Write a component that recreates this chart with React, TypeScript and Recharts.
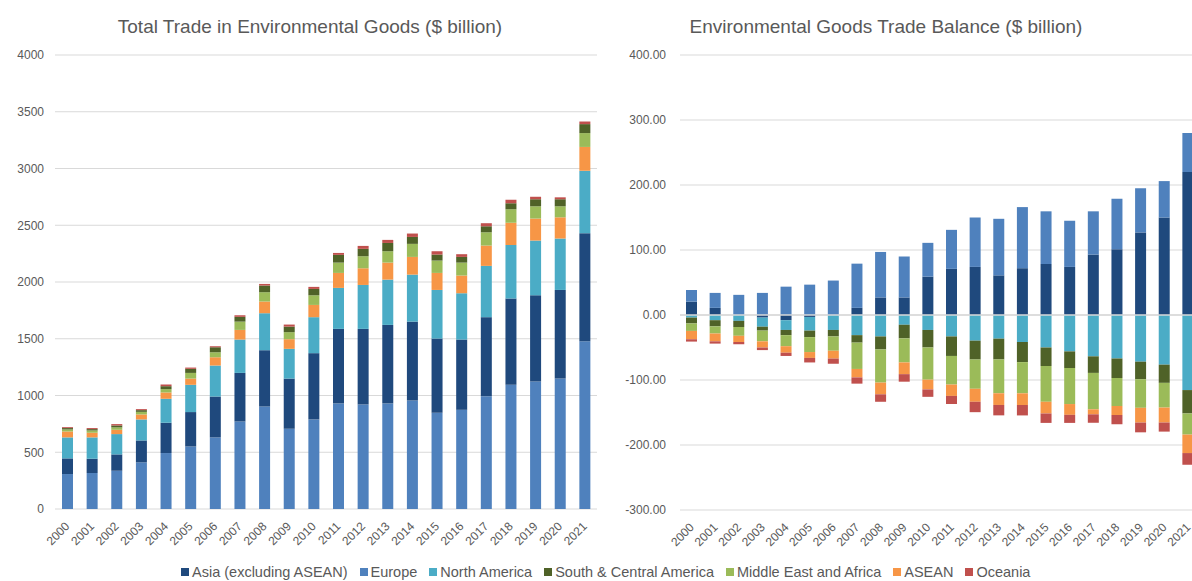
import React from "react";
import {
  BarChart,
  Bar,
  XAxis,
  YAxis,
  CartesianGrid,
  ReferenceLine,
} from "recharts";

const years = [
  "2000", "2001", "2002", "2003", "2004", "2005", "2006", "2007", "2008", "2009", "2010",
  "2011", "2012", "2013", "2014", "2015", "2016", "2017", "2018", "2019", "2020", "2021",
];

// total trade ($ billion)
const europeTotal = [308, 317, 337, 411, 493, 551, 631, 771, 903, 707, 789, 930, 921, 930, 956, 848, 874, 994, 1095, 1123, 1149, 1478];
const asiaTotal = [138, 126, 144, 193, 267, 303, 360, 428, 496, 442, 584, 657, 666, 692, 695, 654, 619, 696, 759, 760, 781, 952];
const northAmericaTotal = [185, 188, 179, 185, 211, 240, 273, 294, 326, 262, 317, 361, 387, 399, 414, 428, 408, 452, 473, 482, 453, 550];
const aseanTotal = [52, 41, 38, 44, 56, 55, 73, 85, 103, 85, 108, 132, 147, 150, 156, 150, 156, 179, 194, 194, 187, 210];
const meaTotal = [18, 20, 21, 23, 29, 50, 44, 73, 82, 62, 85, 91, 106, 100, 115, 109, 114, 117, 120, 108, 97, 122];
const scaTotal = [12, 12, 17, 15, 26, 36, 44, 42, 59, 49, 56, 68, 65, 73, 61, 53, 50, 53, 53, 62, 62, 79];
const oceaniaTotal = [8, 9, 12, 9, 15, 11, 9, 14, 14, 18, 18, 17, 26, 27, 30, 29, 24, 27, 31, 22, 17, 23];

// trade balance ($ billion)
const asiaBal = [20.5, 11, 0, -4, -8, -3, 0, 11, 27, 27, 59, 71, 74, 61, 72, 78.5, 74, 93, 101, 127, 150, 220];
const europeBal = [18, 23, 31, 34, 43.6, 46.7, 53, 68, 70, 63, 52, 60, 76, 87, 94, 81, 71, 66.5, 78, 68, 56, 60];
const northAmericaBal = [-4, -8, -9, -14, -15, -21, -23, -31, -33, -15, -23, -33, -39.5, -36.4, -41.5, -50, -56, -63.6, -67, -71.8, -76.4, -115.5];
const scaBal = [-9, -9.5, -9.5, -6, -8, -10, -10, -11.5, -20, -21, -27, -30, -29, -32, -31, -28.5, -25.5, -25.5, -30, -27, -28, -36];
const meaBal = [-11.5, -11, -13.5, -16.5, -17, -23, -22, -40.5, -51, -37, -49.5, -44, -45, -52, -48, -55, -55.5, -56, -43, -44, -38, -32.5];
const aseanBal = [-12.8, -12, -9.5, -9.5, -10, -9, -12, -13, -18, -18, -15, -17.5, -20, -18, -18, -18, -16.6, -7.7, -14, -22.7, -23, -28.4];
const oceaniaBal = [-3.6, -3.5, -3.5, -4, -5, -7, -8, -9.6, -11.5, -11.6, -11.4, -12.4, -16, -16, -16, -14.5, -12.4, -13, -14, -15, -14, -18];

const totalTicks = [0, 500, 1000, 1500, 2000, 2500, 3000, 3500, 4000];
const balanceTicks = [-300, -200, -100, 0, 100, 200, 300, 400];

const COLORS = {
  asia: "#1f497d",
  europe: "#4f81bd",
  northAmerica: "#4bacc6",
  sca: "#4f6228",
  mea: "#9bbb59",
  asean: "#f79646",
  oceania: "#c0504d",
};

const legendItems = [
  { name: "Asia (excluding ASEAN)", color: COLORS.asia },
  { name: "Europe", color: COLORS.europe },
  { name: "North America", color: COLORS.northAmerica },
  { name: "South & Central America", color: COLORS.sca },
  { name: "Middle East and Africa", color: COLORS.mea },
  { name: "ASEAN", color: COLORS.asean },
  { name: "Oceania", color: COLORS.oceania },
];

const totalData = years.map((year, i) => ({
  year,
  europe: europeTotal[i],
  asia: asiaTotal[i],
  northAmerica: northAmericaTotal[i],
  asean: aseanTotal[i],
  mea: meaTotal[i],
  sca: scaTotal[i],
  oceania: oceaniaTotal[i],
}));

const balanceData = years.map((year, i) => ({
  year,
  asia: asiaBal[i],
  europe: europeBal[i],
  northAmerica: northAmericaBal[i],
  sca: scaBal[i],
  mea: meaBal[i],
  asean: aseanBal[i],
  oceania: oceaniaBal[i],
}));

const TEXT = "#595959";
const GRID = "#d9d9d9";

const YearTick = (props: any) => {
  const { x, y, payload } = props;
  const tx = x + 3;
  const ty = y + 10;
  return (
    <text
      x={tx}
      y={ty}
      textAnchor="end"
      fill={TEXT}
      fontSize={12}
      transform={`rotate(-45 ${tx} ${ty})`}
    >
      {payload.value}
    </text>
  );
};

const titleStyle: React.CSSProperties = {
  position: "absolute",
  top: 16,
  fontSize: 19,
  lineHeight: "22px",
  color: TEXT,
  textAlign: "center",
  whiteSpace: "nowrap",
};

export default function App() {
  return (
    <div
      style={{
        position: "fixed",
        left: 0,
        top: 0,
        width: 1192,
        height: 581,
        overflow: "hidden",
        background: "#fff",
        fontFamily: '"Liberation Sans", Arial, sans-serif',
      }}
    >
      <div style={{ ...titleStyle, left: 10, width: 600 }}>
        Total Trade in Environmental Goods ($ billion)
      </div>
      <div style={{ ...titleStyle, left: 586, width: 600 }}>
        Environmental Goods Trade Balance ($ billion)
      </div>

      <div style={{ position: "absolute", left: 0, top: 0 }}>
        <BarChart
          width={600}
          height={581}
          data={totalData}
          margin={{ top: 55, right: 3, bottom: 22, left: 0 }}
          barSize={11}
        >
          <CartesianGrid vertical={false} stroke={GRID} />
          <XAxis
            dataKey="year"
            height={50}
            axisLine={false}
            tickLine={false}
            interval={0}
            tick={<YearTick />}
          />
          <YAxis
            width={55}
            domain={[0, 4000]}
            ticks={totalTicks}
            axisLine={false}
            tickLine={false}
            tickSize={0}
            tickMargin={11}
            tick={{ fill: TEXT, fontSize: 12 }}
          />
          <Bar dataKey="europe" stackId="t" fill={COLORS.europe} isAnimationActive={false} />
          <Bar dataKey="asia" stackId="t" fill={COLORS.asia} isAnimationActive={false} />
          <Bar dataKey="northAmerica" stackId="t" fill={COLORS.northAmerica} isAnimationActive={false} />
          <Bar dataKey="asean" stackId="t" fill={COLORS.asean} isAnimationActive={false} />
          <Bar dataKey="mea" stackId="t" fill={COLORS.mea} isAnimationActive={false} />
          <Bar dataKey="sca" stackId="t" fill={COLORS.sca} isAnimationActive={false} />
          <Bar dataKey="oceania" stackId="t" fill={COLORS.oceania} isAnimationActive={false} />
        </BarChart>
      </div>

      <div style={{ position: "absolute", left: 600, top: 0 }}>
        <BarChart
          width={600}
          height={581}
          data={balanceData}
          stackOffset="sign"
          margin={{ top: 55, right: 0, bottom: 21, left: 0 }}
          barSize={11}
        >
          <CartesianGrid vertical={false} stroke={GRID} />
          <XAxis
            dataKey="year"
            height={50}
            axisLine={false}
            tickLine={false}
            interval={0}
            tick={<YearTick />}
          />
          <YAxis
            width={80}
            domain={[-300, 400]}
            ticks={balanceTicks}
            axisLine={false}
            tickLine={false}
            tickSize={0}
            tickMargin={14}
            tickFormatter={(v: number) => v.toFixed(2)}
            tick={{ fill: TEXT, fontSize: 12 }}
          />
          <ReferenceLine y={0} stroke={GRID} strokeWidth={1.5} />
          <Bar dataKey="asia" stackId="b" fill={COLORS.asia} isAnimationActive={false} />
          <Bar dataKey="europe" stackId="b" fill={COLORS.europe} isAnimationActive={false} />
          <Bar dataKey="northAmerica" stackId="b" fill={COLORS.northAmerica} isAnimationActive={false} />
          <Bar dataKey="sca" stackId="b" fill={COLORS.sca} isAnimationActive={false} />
          <Bar dataKey="mea" stackId="b" fill={COLORS.mea} isAnimationActive={false} />
          <Bar dataKey="asean" stackId="b" fill={COLORS.asean} isAnimationActive={false} />
          <Bar dataKey="oceania" stackId="b" fill={COLORS.oceania} isAnimationActive={false} />
        </BarChart>
      </div>

      <div
        style={{
          position: "absolute",
          left: 181,
          top: 564,
          display: "flex",
          alignItems: "center",
          fontSize: 14.5,
          lineHeight: "16px",
          color: TEXT,
          whiteSpace: "nowrap",
        }}
      >
        {legendItems.map((item) => (
          <div
            key={item.name}
            style={{ display: "flex", alignItems: "center", marginRight: 12 }}
          >
            <span
              style={{
                display: "inline-block",
                width: 8,
                height: 8,
                background: item.color,
                marginRight: 3,
              }}
            />
            {item.name}
          </div>
        ))}
      </div>
    </div>
  );
}
